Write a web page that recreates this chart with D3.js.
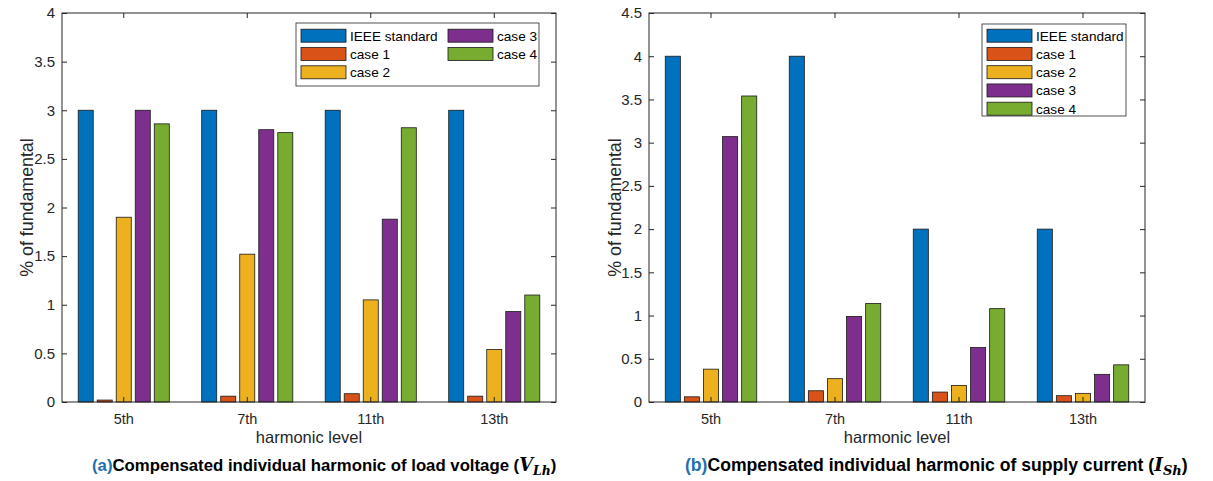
<!DOCTYPE html>
<html>
<head>
<meta charset="utf-8">
<script src="https://cdn.jsdelivr.net/npm/d3@7"></script>
<style>
  body { margin: 0; background: #fff; }
  text { font-family: "Liberation Sans", Arial, sans-serif; }
</style>
</head>
<body>
<div id="chart"></div>
<script>
// Data
var harmonics = ["5th", "7th", "11th", "13th"];
var seriesNames = ["IEEE standard", "case 1", "case 2", "case 3", "case 4"];
var seriesColors = ["#0072BD", "#D95319", "#EDB120", "#7E2F8E", "#77AC30"];

// (a) load voltage, one row per series
var voltageValues = [
  [3, 3, 3, 3],
  [0.02, 0.06, 0.085, 0.06],
  [1.9, 1.52, 1.05, 0.54],
  [3.0, 2.8, 1.88, 0.93],
  [2.86, 2.77, 2.82, 1.1]
];
var voltageTicks = [0, 0.5, 1, 1.5, 2, 2.5, 3, 3.5, 4];

// (b) supply current
var currentValues = [
  [4, 4, 2, 2],
  [0.06, 0.13, 0.115, 0.073],
  [0.38, 0.27, 0.19, 0.1],
  [3.07, 0.99, 0.63, 0.32],
  [3.54, 1.14, 1.08, 0.43]
];
var currentTicks = [0, 0.5, 1, 1.5, 2, 2.5, 3, 3.5, 4, 4.5];

var svgWidth = 1213;
var svgHeight = 481;

var svg = d3.select("#chart")
  .append("svg")
  .attr("width", svgWidth)
  .attr("height", svgHeight);

var axisColor = "#262626";
var sans = "'Liberation Sans', Arial, sans-serif";
var serif = "'DejaVu Serif', 'Liberation Serif', serif";

function drawPanel(opts) {
  var w = opts.right - opts.left;
  var h = opts.bottom - opts.top;
  var g = svg.append("g")
    .attr("transform", `translate(${opts.left}, ${opts.top})`);

  var x0 = d3.scaleBand().domain(harmonics).range([0, w]).paddingInner(0).paddingOuter(0);
  // 5 bars inside each group, pitch ~0.154 of group, width ~0.122
  var x1 = d3.scaleBand().domain(d3.range(seriesNames.length))
    .range([x0.bandwidth() * 0.115, x0.bandwidth() * 0.885])
    .paddingInner(0.21).paddingOuter(0.105);
  var y = d3.scaleLinear().domain([0, opts.yMax]).range([h, 0]);

  // bars
  opts.values.forEach(function(row, s) {
    g.selectAll(null)
      .data(row)
      .enter()
      .append("rect")
      .attr("x", (d, i) => x0(harmonics[i]) + x1(s))
      .attr("y", d => y(d))
      .attr("width", x1.bandwidth())
      .attr("height", d => h - y(d))
      .attr("fill", seriesColors[s])
      .attr("stroke", "#1a1a1a")
      .attr("stroke-width", 0.8);
  });

  // box
  g.append("rect")
    .attr("width", w).attr("height", h)
    .attr("fill", "none").attr("stroke", axisColor).attr("stroke-width", 1);

  // y axis, ticks pointing inward
  var leftAxis = d3.axisLeft(y).tickValues(opts.ticks).tickSize(-5).tickPadding(7)
    .tickFormat(d3.format("~g"));
  var ya = g.append("g").call(leftAxis);
  ya.select(".domain").remove();
  ya.selectAll("line").attr("stroke", axisColor);
  ya.selectAll("text").attr("fill", axisColor).style("font-size", "15px")
    .style("font-family", sans);
  // right side ticks
  g.append("g").attr("transform", `translate(${w},0)`)
    .call(d3.axisRight(y).tickValues(opts.ticks).tickSize(-5).tickFormat(""))
    .call(a => a.select(".domain").remove())
    .selectAll("line").attr("stroke", axisColor);

  // x axis
  var bottomAxis = d3.axisBottom(x0).tickSize(-5).tickPadding(12);
  var xa = g.append("g").attr("transform", `translate(0, ${h})`).call(bottomAxis);
  xa.select(".domain").remove();
  xa.selectAll("line").attr("stroke", axisColor);
  xa.selectAll("text").attr("fill", axisColor).style("font-size", "14.5px")
    .style("font-family", sans);
  g.append("g")
    .call(d3.axisTop(x0).tickSize(-5).tickFormat(""))
    .call(a => a.select(".domain").remove())
    .selectAll("line").attr("stroke", axisColor);

  // axis labels
  g.append("text")
    .attr("x", w / 2).attr("y", h + 41)
    .attr("text-anchor", "middle")
    .attr("fill", axisColor)
    .style("font-size", "16.5px")
    .text("harmonic level");

  g.append("text")
    .attr("transform", "rotate(-90)")
    .attr("x", -h / 2).attr("y", opts.yLabelX - opts.left)
    .attr("text-anchor", "middle")
    .attr("fill", axisColor)
    .style("font-size", "17.8px")
    .text("% of fundamental");

  // legend
  var lg = svg.append("g").attr("transform", `translate(${opts.legend.x}, ${opts.legend.y})`);
  lg.append("rect")
    .attr("width", opts.legend.w).attr("height", opts.legend.h)
    .attr("fill", "#fff").attr("stroke", axisColor).attr("stroke-width", 0.8);
  seriesNames.forEach(function(name, i) {
    var pos = opts.legend.pos(i);
    lg.append("rect")
      .attr("x", pos[0]).attr("y", pos[1] - 6.5)
      .attr("width", 45).attr("height", 13)
      .attr("fill", seriesColors[i])
      .attr("stroke", "#1a1a1a").attr("stroke-width", 0.8);
    lg.append("text")
      .attr("x", pos[0] + 49).attr("y", pos[1] + 5)
      .attr("fill", "#000")
      .style("font-size", "13.6px")
      .text(name);
  });

  // caption
  var fs = opts.caption.size;
  var cap = svg.append("text")
    .attr("x", opts.caption.x).attr("y", 470.5)
    .style("font-size", fs + "px").style("font-weight", "bold")
    .attr("fill", "#000");
  cap.append("tspan").attr("fill", "#1f6fae").text(opts.caption.tag);
  cap.append("tspan").text(opts.caption.text + " (");
  cap.append("tspan")
    .style("font-family", serif)
    .style("font-style", "italic").style("font-weight", "bold")
    .style("font-size", (fs * 1.06) + "px")
    .text(opts.caption.sym);
  cap.append("tspan")
    .attr("dy", 4)
    .style("font-family", serif)
    .style("font-style", "italic").style("font-weight", "bold")
    .style("font-size", (fs * 0.74) + "px")
    .text(opts.caption.sub);
  cap.append("tspan").attr("dy", -4).text(")");
}

drawPanel({
  left: 62, right: 556, top: 13, bottom: 402,
  yMax: 4, ticks: voltageTicks, values: voltageValues, yLabelX: 33,
  legend: {
    x: 296, y: 23, w: 243, h: 63,
    pos: function(i) {
      var col = i < 3 ? 0 : 1;
      var row = i < 3 ? i : i - 3;
      return [5 + col * 147, 12.7 + row * 18.3];
    }
  },
  caption: { x: 92, size: 16.75, tag: "(a)", text: "Compensated individual harmonic of load voltage", sym: "V", sub: "Lh" }
});

drawPanel({
  left: 649, right: 1145, top: 13, bottom: 402,
  yMax: 4.5, ticks: currentTicks, values: currentValues, yLabelX: 621,
  legend: {
    x: 982, y: 24, w: 144, h: 92,
    pos: function(i) { return [5, 11.7 + i * 18.25]; }
  },
  caption: { x: 685, size: 17.6, tag: "(b)", text: "Compensated individual harmonic of supply current", sym: "I", sub: "Sh" }
});
</script>
</body>
</html>
